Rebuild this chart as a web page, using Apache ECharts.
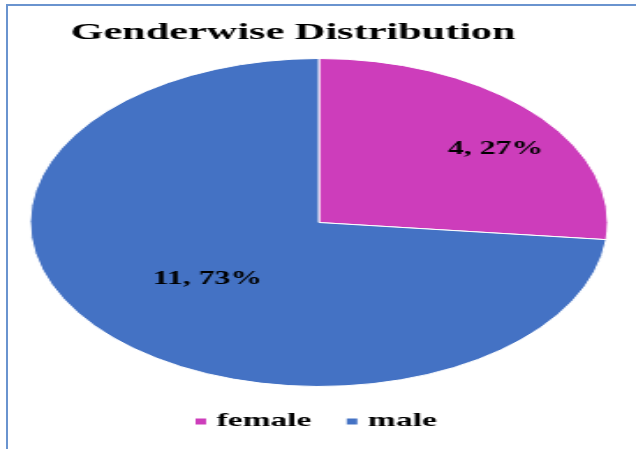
<!DOCTYPE html>
<html>
<head>
<meta charset="utf-8">
<script src="https://cdn.jsdelivr.net/npm/echarts@6/dist/echarts.min.js"></script>
<style>
  html, body { margin: 0; padding: 0; background: #fff; overflow: hidden; }
  #frame { position: absolute; left: 6px; top: 4px; width: 640px; height: 460px;
           border-top: 2px solid #6a94cf; border-left: 2px solid #6a94cf; }
  #chart { position: absolute; left: 0; top: 0; width: 361px; height: 449px;
           transform: scaleX(1.7618); transform-origin: 0 0; }
</style>
</head>
<body>
<div id="frame"></div>
<div id="chart"></div>
<script>
const titleText = 'Genderwise Distribution';
const categories = ['female', 'male'];
const counts = [4, 11];
const colors = ['#cd3dbb', '#4472c4'];

const chart = echarts.init(document.getElementById('chart'), null, { renderer: 'canvas' });
const font = "'Liberation Serif', 'DejaVu Serif', serif";

chart.setOption({
  animation: false,
  title: {
    text: titleText,
    left: 40,
    top: 21,
    padding: 0,
    textStyle: { fontFamily: font, fontWeight: 'bold', fontSize: 24, color: '#000' }
  },
  legend: {
    data: categories,
    bottom: 13,
    left: 104,
    itemWidth: 8,
    itemHeight: 8,
    itemGap: 18,
    icon: 'rect',
    textStyle: { fontFamily: font, fontWeight: 'bold', fontSize: 19, color: '#000' }
  },
  series: [{
    type: 'pie',
    center: [181, 222.5],
    radius: 164,
    startAngle: 90,
    clockwise: true,
    percentPrecision: 0,
    emphasis: { disabled: true },
    itemStyle: { borderColor: '#fff', borderWidth: 1 },
    label: {
      position: 'inside',
      formatter: '{c}, {d}%',
      fontFamily: font,
      fontWeight: 'bold',
      fontSize: 18,
      color: '#000'
    },
    labelLine: { show: false },
    labelLayout: function (p) {
      return p.dataIndex === 0 ? { dx: 37, dy: -16 } : {};
    },
    data: categories.map((c, i) => ({ name: c, value: counts[i], itemStyle: { color: colors[i] } }))
  }]
});
</script>
</body>
</html>
